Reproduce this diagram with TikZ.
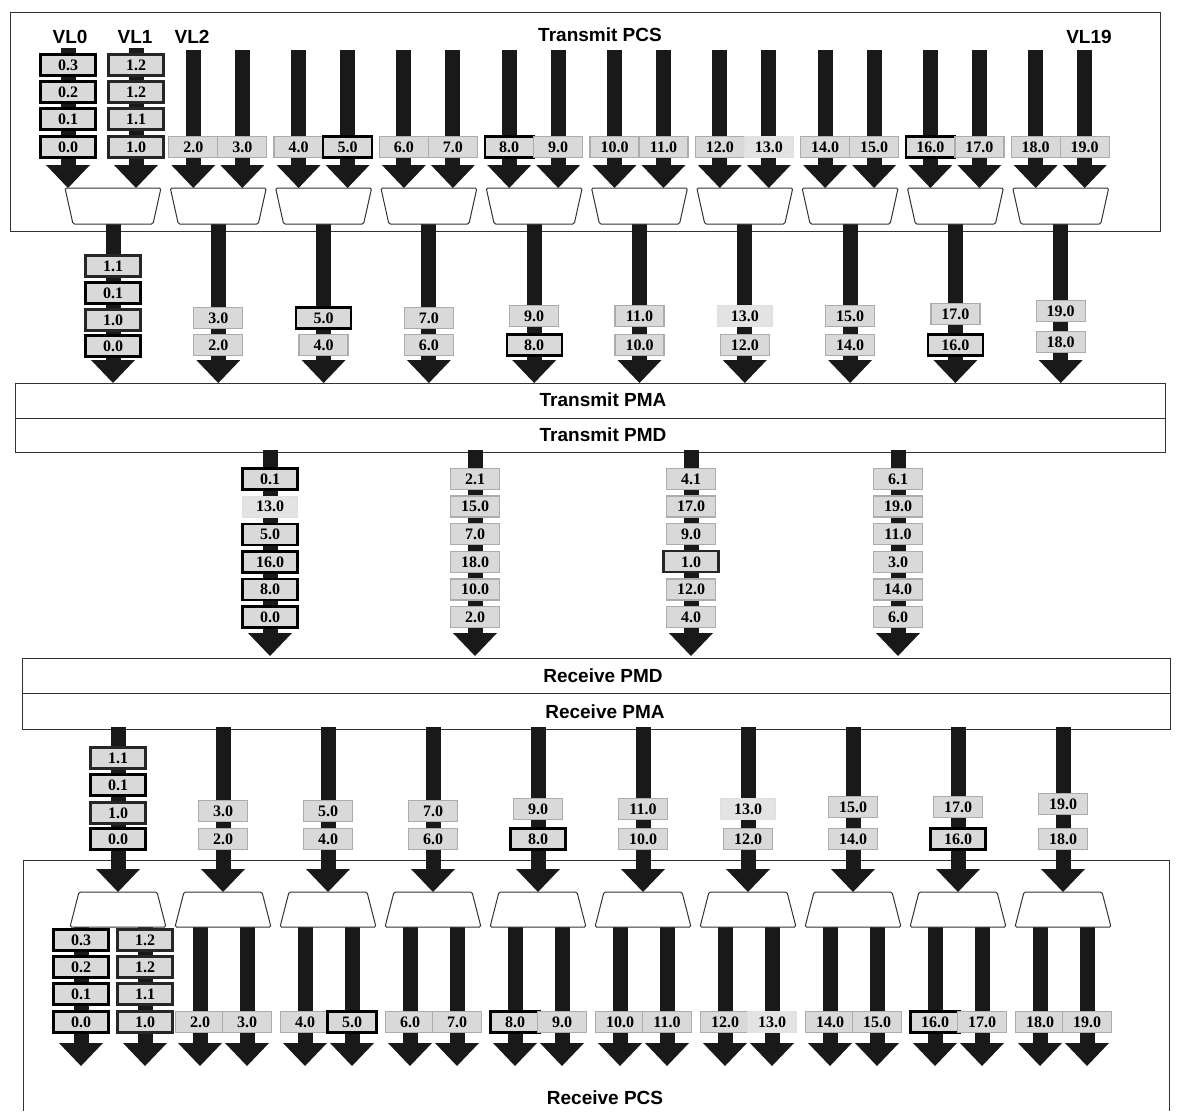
\documentclass[tikz,border=0pt]{standalone}
\usepackage{fontspec}
\setmainfont{Liberation Serif}
\newfontfamily\hdrfont{Liberation Sans}
\begin{document}
\begin{tikzpicture}[x=1pt,y=-1pt,
  lbl/.style={draw=gray!65, line width=1.3pt, fill=gray!30, minimum width=49pt, minimum height=21pt, inner sep=0pt, font=\bfseries\fontsize{16}{16}\selectfont},
  wide/.style={minimum width=55pt},
  thk/.style={draw=black, line width=2.4pt},
  mdk/.style={draw=black!85, line width=2.1pt},
  fnt/.style={draw=gray!25, line width=0.8pt, fill=gray!22},
  hdr/.style={font=\hdrfont\bfseries\fontsize{19}{19}\selectfont, inner sep=0pt},
  bar/.style={line width=15pt, black!90},
  layer/.style={draw=black!80, line width=1pt},
  muxs/.style={draw=black!80, line width=1pt, fill=white, rounded corners=1.5pt},
  ahead/.pic={\fill[black!90] (-22,-23) -- (22,-23) -- (0,0) -- cycle;}
]
\useasboundingbox (0,0) rectangle (1199,1111);
\fill[white] (0,0) rectangle (1199,1111);

% ================= Transmit PCS =================
\draw[layer] (10,12) rectangle (1160,231);
\node[hdr] (tpcs) at (600,35) {Transmit PCS};
\node[hdr] (vl0) at (70,37) {VL0};
\node[hdr] (vl1) at (135,37) {VL1};
\node[hdr] (vl2) at (192,37) {VL2};
\node[hdr] (vl19) at (1089,37) {VL19};

\foreach \x in {68,136} {\draw[bar] (\x,48) -- (\x,167); \pic at (\x,188) {ahead};}
\foreach \k in {1,...,9} {
  \pgfmathsetmacro\cx{113+105.3*\k}
  \draw[bar] (\cx-25,50) -- (\cx-25,167); \pic at (\cx-25,188) {ahead};
  \draw[bar] (\cx+24,50) -- (\cx+24,167); \pic at (\cx+24,188) {ahead};
}
\foreach \k in {0,...,9} {
  \pgfmathsetmacro\cx{113+105.3*\k}
  \draw[bar] (\cx,222) -- (\cx,362); \pic at (\cx,383) {ahead};
  \draw[muxs] (\cx-48,188) -- (\cx+48,188) -- (\cx+40,224) -- (\cx-40,224) -- cycle;
  \coordinate (txmux\k) at (\cx,206);
}
\foreach \y/\lab [count=\i] in {65/0.3, 92/0.2, 119/0.1, 147/0.0}
  \node[lbl,wide,thk] (tva\i) at (68,\y) {\lab};
\foreach \y/\lab [count=\i] in {65/1.2, 92/1.2, 119/1.1, 147/1.0}
  \node[lbl,wide,mdk] (tvb\i) at (136,\y) {\lab};
\foreach \k/\sa/\sb in {1/lbl/lbl,2/lbl/thk,3/lbl/lbl,4/thk/lbl,5/lbl/lbl,6/lbl/fnt,7/lbl/lbl,8/thk/lbl,9/lbl/lbl} {
  \pgfmathsetmacro\cx{113+105.3*\k}
  \pgfmathtruncatemacro\la{2*\k}
  \pgfmathtruncatemacro\lb{2*\k+1}
  \node[lbl,\sa] (tx\la) at (\cx-25,147) {\la.0};
  \node[lbl,\sb] (tx\lb) at (\cx+24,147) {\lb.0};
}

% tier 1 labels
\foreach \y/\lab/\st [count=\i] in {266/1.1/mdk, 293/0.1/thk, 320/1.0/mdk, 346/0.0/thk}
  \node[lbl,wide,\st] (ta\i) at (113,\y) {\lab};
\foreach \k/\sa/\sb/\ya/\yb in {1/lbl/lbl/318/345, 2/thk/lbl/318/345, 3/lbl/lbl/318/345, 4/lbl/thk/316/345, 5/lbl/lbl/316/345, 6/fnt/lbl/316/345, 7/lbl/lbl/316/345, 8/lbl/thk/314/345, 9/lbl/lbl/311/342} {
  \pgfmathsetmacro\cx{113+105.3*\k}
  \pgfmathtruncatemacro\la{2*\k}
  \pgfmathtruncatemacro\lb{2*\k+1}
  \node[lbl,wide,\sa] (tb\lb) at (\cx,\ya) {\lb.0};
  \node[lbl,wide,\sb] (tb\la) at (\cx,\yb) {\la.0};
}

% ================= Transmit PMA / PMD =================
\draw[layer] (15,383) rectangle (1165,452);
\draw[layer] (15,418) -- (1165,418);
\node[hdr] (tpma) at (603,400) {Transmit PMA};
\node[hdr] (tpmd) at (603,435) {Transmit PMD};

% tier 2 (PMD lanes)
\foreach \x in {270,475,691,898} {\draw[bar] (\x,450) -- (\x,635); \pic at (\x,656) {ahead};}
\foreach \lab/\st [count=\i] in {0.1/thk,13.0/fnt,5.0/thk,16.0/thk,8.0/thk,0.0/thk} {
  \pgfmathsetmacro\y{479+27.6*(\i-1)} \node[lbl,wide,\st] (pa\i) at (270,\y) {\lab};}
\foreach \lab/\st [count=\i] in {2.1/lbl,15.0/lbl,7.0/lbl,18.0/lbl,10.0/lbl,2.0/lbl} {
  \pgfmathsetmacro\y{479+27.6*(\i-1)} \node[lbl,wide,\st] (pb\i) at (475,\y) {\lab};}
\foreach \lab/\st [count=\i] in {4.1/lbl,17.0/lbl,9.0/lbl,1.0/mdk,12.0/lbl,4.0/lbl} {
  \pgfmathsetmacro\y{479+27.6*(\i-1)} \node[lbl,wide,\st] (pc\i) at (691,\y) {\lab};}
\foreach \lab/\st [count=\i] in {6.1/lbl,19.0/lbl,11.0/lbl,3.0/lbl,14.0/lbl,6.0/lbl} {
  \pgfmathsetmacro\y{479+27.6*(\i-1)} \node[lbl,wide,\st] (pd\i) at (898,\y) {\lab};}

% ================= Receive PMD / PMA =================
\draw[layer] (22,658) rectangle (1170,729);
\draw[layer] (22,693) -- (1170,693);
\node[hdr] (rpmd) at (603,676) {Receive PMD};
\node[hdr] (rpma) at (605,712) {Receive PMA};

% ================= Receive PCS =================
\draw[layer] (23,1111) -- (23,860) -- (1169,860) -- (1169,1111);
\node[hdr] (rpcs) at (605,1098) {Receive PCS};

\foreach \k in {0,...,9} {
  \pgfmathsetmacro\cx{118+105*\k}
  \draw[bar] (\cx,727) -- (\cx,871); \pic at (\cx,892) {ahead};
  \coordinate (rxmux\k) at (\cx,910);
}
\foreach \x in {81,145} {\draw[bar] (\x,925) -- (\x,1045); \pic at (\x,1066) {ahead};}
\foreach \k in {1,...,9} {
  \pgfmathsetmacro\cx{118+105*\k}
  \draw[bar] (\cx-23,925) -- (\cx-23,1045); \pic at (\cx-23,1066) {ahead};
  \draw[bar] (\cx+24,925) -- (\cx+24,1045); \pic at (\cx+24,1066) {ahead};
}
\foreach \k in {0,...,9} {
  \pgfmathsetmacro\cx{118+105*\k}
  \draw[muxs] (\cx-39,892) -- (\cx+39,892) -- (\cx+48,927) -- (\cx-48,927) -- cycle;
}

% tier 3 labels
\foreach \y/\lab/\st [count=\i] in {758/1.1/mdk, 785/0.1/thk, 813/1.0/mdk, 839/0.0/thk}
  \node[lbl,wide,\st] (ra\i) at (118,\y) {\lab};
\foreach \k/\sa/\sb/\ya/\yb in {1/lbl/lbl/811/839, 2/lbl/lbl/811/839, 3/lbl/lbl/811/839, 4/lbl/thk/809/839, 5/lbl/lbl/809/839, 6/fnt/lbl/809/839, 7/lbl/lbl/807/839, 8/lbl/thk/807/839, 9/lbl/lbl/804/839} {
  \pgfmathsetmacro\cx{118+105*\k}
  \pgfmathtruncatemacro\la{2*\k}
  \pgfmathtruncatemacro\lb{2*\k+1}
  \node[lbl,wide,\sa] (rb\lb) at (\cx,\ya) {\lb.0};
  \node[lbl,wide,\sb] (rb\la) at (\cx,\yb) {\la.0};
}

% receive output labels
\foreach \y/\lab [count=\i] in {940/0.3, 967/0.2, 994/0.1, 1022/0.0}
  \node[lbl,wide,thk] (rva\i) at (81,\y) {\lab};
\foreach \y/\lab [count=\i] in {940/1.2, 967/1.2, 994/1.1, 1022/1.0}
  \node[lbl,wide,mdk] (rvb\i) at (145,\y) {\lab};
\foreach \k/\sa/\sb in {1/lbl/lbl,2/lbl/thk,3/lbl/lbl,4/thk/lbl,5/lbl/lbl,6/lbl/fnt,7/lbl/lbl,8/thk/lbl,9/lbl/lbl} {
  \pgfmathsetmacro\cx{118+105*\k}
  \pgfmathtruncatemacro\la{2*\k}
  \pgfmathtruncatemacro\lb{2*\k+1}
  \node[lbl,\sa] (rx\la) at (\cx-23,1022) {\la.0};
  \node[lbl,\sb] (rx\lb) at (\cx+24,1022) {\lb.0};
}
\end{tikzpicture}
\end{document}
